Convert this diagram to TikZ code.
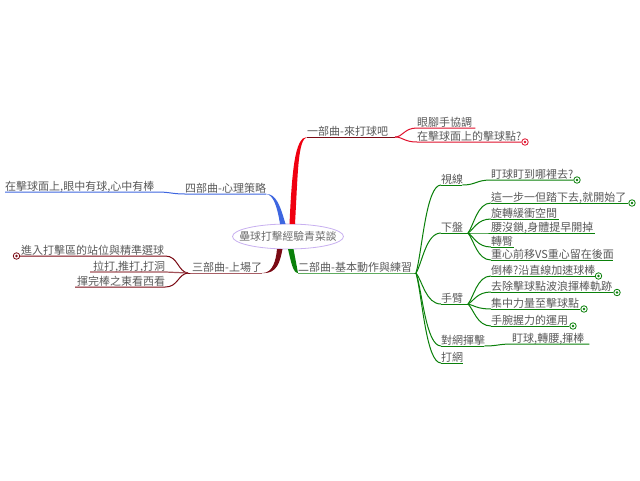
\documentclass[tikz,border=0pt]{standalone}
\usepackage{fontspec}
\setmainfont{Noto Sans CJK TC}
\usetikzlibrary{calc,shapes.geometric}
\newcommand{\conn}[3]{\draw[#1] (#2) .. controls ($(#2)!.25!(#3)$) and ($(#3)!.6!(#2|-#3)$) .. (#3);}
\definecolor{mainblue}{HTML}{3E66E0}
\definecolor{maindark}{HTML}{7A0A14}
\definecolor{maingreen}{HTML}{0A800A}
\definecolor{mainred}{HTML}{F00010}
\definecolor{leafred}{HTML}{E0102C}
\definecolor{rootline}{HTML}{C8B0F0}
\tikzset{
  x=1pt,y=-1pt,
  lab/.style={anchor=south west,inner sep=0pt,text width=#1,align=left,text height=9.5pt,text depth=1pt,
    text=black!65,font=\fontsize{11}{12}\selectfont},
  rootnode/.style={ellipse,draw=rootline,fill=white,line width=.8pt,inner sep=0pt,minimum width=111pt,minimum height=25pt,
    text=black!58,font=\fontsize{10.8}{12}\selectfont},
  marker/.style={circle,draw=#1,fill=white,line width=.8pt,inner sep=0pt,minimum size=6.5pt,
    path picture={\fill[#1] (path picture bounding box.center) circle (1.4pt);}},
  gl/.style={draw=maingreen,line width=1pt},
  rl/.style={draw=leafred,line width=1pt},
  dl/.style={draw=maindark,line width=1pt},
  bl/.style={draw=mainblue,line width=1pt},
}
\begin{document}
\begin{tikzpicture}
\useasboundingbox (0,0) rectangle (640,480);
\fill[white] (0,0) rectangle (640,480);
% nodes
\node[rootnode] (root) at (288,236.5) {\smash{\raisebox{-4pt}{\makebox[0pt]{壘球打擊經驗青菜談}}}};
\node[lab=83pt] (one) at (307,137) {\mbox{一部曲-來打球吧}};
\node[lab=115pt] (two) at (298,273) {\mbox{二部曲-基本動作與練習}};
\node[lab=70pt] (three) at (192,273) {\mbox{三部曲-上場了}};
\node[lab=81pt] (four) at (185,194) {\mbox{四部曲-心理策略}};
\coordinate (f1) at (395,137);
\coordinate (f2) at (416,273);
\coordinate (f3) at (188,273);
\node[lab=58pt] (a1) at (417,128) {眼腳手協調};
\node[lab=103pt] (a2) at (417,142) {在擊球面上的擊球點?};
\node[marker=leafred] (am) at (525,142) {};
\node[lab=21pt] (b1) at (441,185) {視線};
\node[lab=24pt] (b2) at (441,233) {下盤};
\node[lab=21pt] (b3) at (441,304) {手臂};
\node[lab=43pt] (b4) at (441,346) {對網揮擊};
\node[lab=22pt] (b5) at (441,363) {打網};
\coordinate (g2) at (468,233);
\coordinate (g3) at (468,304);
\node[lab=80pt] (c1) at (491,180) {盯球盯到哪裡去?};
\node[marker=maingreen] (cm1) at (577,180) {};
\node[lab=136pt] (d1) at (491,203) {這一步一但踏下去,就開始了};
\node[marker=maingreen] (dm1) at (632,203) {};
\node[lab=68pt] (d2) at (491,219) {旋轉緩衝空間};
\node[lab=104pt] (d3) at (491,233) {腰沒鎖,身體提早開掉};
\node[lab=23pt] (d4) at (491,247) {轉臀};
\node[lab=122pt] (d5) at (491,260) {重心前移VS重心留在後面};
\node[lab=103pt] (e1) at (491,276) {倒棒?沿直線加速球棒};
\node[marker=maingreen] (em1) at (598.5,276) {};
\node[lab=122pt] (e2) at (491,292) {去除擊球點波浪揮棒軌跡};
\node[marker=maingreen] (em2) at (617,292.5) {};
\node[lab=88pt] (e3) at (491,309) {集中力量至擊球點};
\node[marker=maingreen] (em3) at (584,309) {};
\node[lab=77pt] (e4) at (491,326) {手腕握力的運用};
\node[marker=maingreen] (em4) at (573,326) {};
\node[lab=77pt] (k1) at (512,344) {盯球,轉腰,揮棒};
\node[lab=152pt] (p1) at (5,192) {在擊球面上,眼中有球,心中有棒};
\node[lab=144pt] (q1) at (21,256) {進入打擊區的站位與精準選球};
\node[marker=maindark] (qm) at (16.5,256) {};
\node[lab=75pt] (q2) at (90,272) {\hfill 拉打,推打,打洞};
\node[lab=90pt] (q3) at (75,287) {\hfill 揮完棒之東看西看};
% main tapered branches
\fill[mainred] ($(root)+(1.5,-12.5)$) .. controls (292,170) and (295,137) .. (one.south west) .. controls (298,140) and (298,170) .. ($(root)+(7,-12.5)$) -- cycle;
\fill[mainblue] ($(root)+(-8,-12.5)$) .. controls (277,205) and (273,195) .. (four.south east) .. controls (276,194) and (280,205) .. ($(root)+(-2.5,-12.5)$) -- cycle;
\fill[maindark] ($(root)+(-11,12.5)$) .. controls (276,260) and (273,273) .. (three.south east) .. controls (277,274) and (280,262) .. ($(root)+(-5.5,12.5)$) -- cycle;
\fill[maingreen] ($(root)+(0,12.5)$) .. controls (291,262) and (293,273) .. (two.south west) .. controls (298,273) and (296,262) .. ($(root)+(5.5,12.5)$) -- cycle;
% connectors: branch 1
\draw[dl] (one.south west) -- (f1);
\draw[rl] (f1) .. controls (403,137) and (404,128) .. (a1.south west) -- (a1.south east);
\draw[rl] (f1) .. controls (403,137) and (404,142) .. (a2.south west) -- (a2.south east) -- (am);
% branch 2
\draw[gl] (two.south west) -- (two.south east) -- (f2);
\foreach \c in {b1,b2,b3,b4,b5} {\conn{gl}{f2}{\c.south west}\draw[gl] (\c.south west) -- (\c.south east);}
\draw[gl] (b1.south east) .. controls (476,185) and (476,180) .. (c1.south west) -- (c1.south east) -- (cm1);
\draw[gl] (b2.south east) -- (g2);
\draw[gl] (b3.south east) -- (g3);
\foreach \c in {d1,d2,d3,d4,d5} {\conn{gl}{g2}{\c.south west}\draw[gl] (\c.south west) -- (\c.south east);}
\foreach \c in {e1,e2,e3,e4} {\conn{gl}{g3}{\c.south west}\draw[gl] (\c.south west) -- (\c.south east);}
\draw[gl] (d1.south east) -- (dm1);
\draw[gl] (e1.south east) -- (em1);
\draw[gl] (e2.south east) -- (em2);
\draw[gl] (e3.south east) -- (em3);
\draw[gl] (e4.south east) -- (em4);
\draw[gl] (b4.south east) .. controls (498,346) and (498,344) .. (k1.south west) -- (k1.south east);
% branch 3
\draw[dl] (three.south east) -- (three.south west) -- (f3);
\draw[dl] (f3) .. controls (178,272) and (178,256) .. (q1.south east) -- (q1.south west) -- (qm);
\draw[dl,draw=maindark!70!white,line width=1.2pt] (f3) -- (q2.south east) -- (q2.south west);
\draw[dl] (f3) .. controls (178,274) and (178,287) .. (q3.south east) -- (q3.south west);
% branch 4
\draw[bl] (four.south east) -- (four.south west) .. controls (172,194) and (170,192) .. (p1.south east) -- (p1.south west);
\end{tikzpicture}
\end{document}
